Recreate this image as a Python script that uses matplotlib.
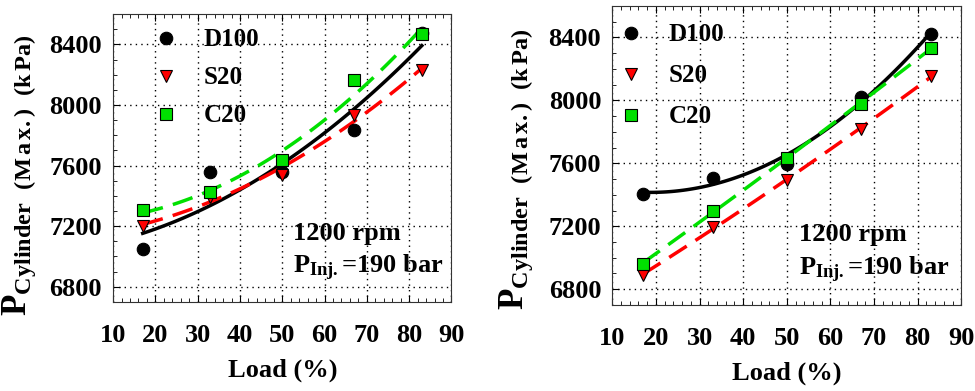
import numpy as np
import matplotlib
matplotlib.use('Agg')
import matplotlib.pyplot as plt
from matplotlib.ticker import MultipleLocator

plt.rcParams['font.family'] = 'Liberation Serif'
plt.rcParams['font.weight'] = 'bold'
plt.rcParams['axes.labelweight'] = 'bold'
plt.rcParams['mathtext.fontset'] = 'custom'
plt.rcParams['mathtext.rm'] = 'Liberation Serif:bold'
plt.rcParams['mathtext.it'] = 'Liberation Serif:bold'
plt.rcParams['mathtext.bf'] = 'Liberation Serif:bold'

load = [17, 33, 50, 67, 83]
labels = ['D100', 'S20', 'C20']

# left panel
left_d100 = [7048, 7558, 7555, 7832, 8475]
left_s20 = [7203, 7395, 7536, 7931, 8231]
left_c20 = [7306, 7422, 7635, 8165, 8466]

# right panel
right_d100 = [7403, 7509, 7598, 8021, 8423]
right_s20 = [6889, 7196, 7492, 7820, 8152]
right_c20 = [6963, 7295, 7634, 7979, 8332]

colors = ['black', 'red', '#00e000']
markers = ['o', 'v', 's']
styles = ['-', (0, (6, 3)), (0, (6, 3))]

ylab = r'P$_{\rm Cylinder\ \ (M\,a\,x.)\ \ (k\,Pa)}$'

fig = plt.figure(figsize=(9.75, 3.91), dpi=100)
ax1 = fig.add_axes([0.116, 0.228, 0.347, 0.736])
ax2 = fig.add_axes([0.628, 0.22, 0.358, 0.765])


def panel(ax, series, leg_anchor, leg_space, note_xy, ylab_xy):
    xs = np.linspace(min(load), max(load), 100)
    handles = []
    for i, y in enumerate(series):
        c = np.polyfit(load, y, 2)
        ax.plot(xs, np.polyval(c, xs), color=colors[i], ls=styles[i], lw=2.5, zorder=2)
        h, = ax.plot(load, y, ls='none', marker=markers[i], ms=9 if i == 0 else 8.5,
                     mfc=colors[i], mec='black', mew=0.8, zorder=3)
        handles.append(h)
    ax.legend(handles, labels, loc='upper left', bbox_to_anchor=leg_anchor, frameon=False,
              prop={'family': 'Liberation Serif', 'weight': 'bold', 'size': 18},
              handletextpad=1.0, labelspacing=leg_space, handlelength=1.0, borderaxespad=0)
    ax.set_xlim(10, 90)
    ax.set_ylim(6700, 8600)
    ax.xaxis.set_major_locator(MultipleLocator(10))
    ax.xaxis.set_minor_locator(MultipleLocator(2))
    ax.yaxis.set_major_locator(MultipleLocator(400))
    ax.yaxis.set_minor_locator(MultipleLocator(100))
    ax.tick_params(which='both', direction='in', top=True, right=False, labelsize=19)
    ax.tick_params(axis='x', pad=16)
    ax.tick_params(axis='y', pad=8)
    ax.tick_params(which='major', length=5)
    ax.tick_params(which='minor', length=3)
    for lab in ax.get_xticklabels() + ax.get_yticklabels():
        lab.set_fontweight('bold')
    ax.grid(True, which='major', ls=(0, (1, 3)), color='black', lw=1)
    for s in ax.spines.values():
        s.set_color('#333333')
    ax.set_xlabel('Load (%)', fontsize=19, fontweight='bold', labelpad=8)
    ax.set_ylabel(ylab, fontsize=25)
    ax.yaxis.set_label_coords(*ylab_xy)
    ax.text(note_xy[0], note_xy[1], '1200 rpm', fontsize=19, fontweight='bold', va='center')
    ax.text(note_xy[0], note_xy[1] - 225, r'P$_{\rm Inj.}$=190 bar', fontsize=19,
            fontweight='bold', va='center')


panel(ax1, [left_d100, left_s20, left_c20], (0.09, 0.985), 0.6, (52.5, 7150), (-0.222, 0.44))
panel(ax2, [right_d100, right_s20, right_c20], (-0.01, 0.975), 0.72, (52.7, 7145), (-0.222, 0.455))

fig.savefig('out.png', dpi=100)
